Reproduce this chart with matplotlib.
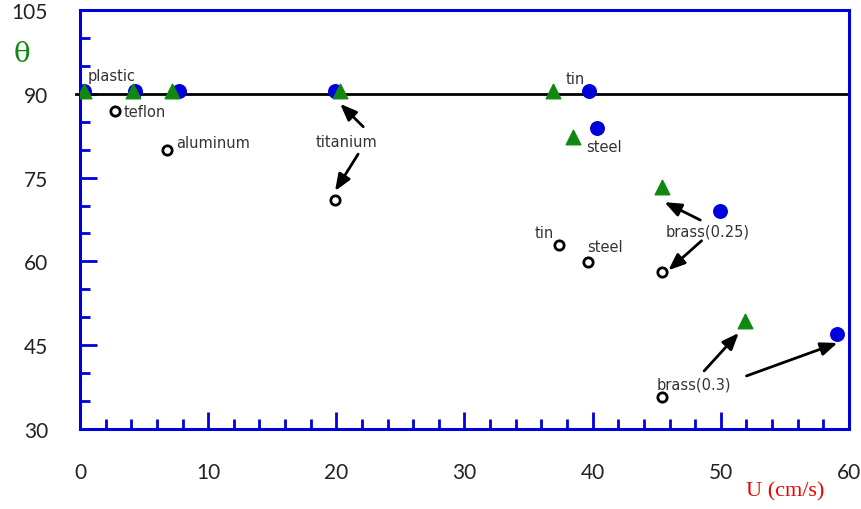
import matplotlib
matplotlib.use("Agg")
import matplotlib.pyplot as plt
from matplotlib.ticker import MultipleLocator

# Closed circles (blue)
blue_u = [0.3, 4.3, 7.7, 19.9, 39.7, 40.3, 49.9, 59.1]
blue_theta = [90.5, 90.5, 90.5, 90.5, 90.5, 83.8, 69.0, 47.0]

# Triangles (green)
green_u = [0.3, 4.1, 7.2, 20.3, 36.9, 38.5, 45.4, 51.9]
green_theta = [90.5, 90.5, 90.5, 90.5, 90.5, 82.3, 73.3, 49.3]

# Open circles (black)
open_u = [2.7, 6.8, 19.9, 37.4, 39.6, 45.4, 45.4]
open_theta = [86.9, 79.9, 71.0, 62.9, 59.9, 58.1, 35.7]

x_ticks = [0, 10, 20, 30, 40, 50, 60]
y_ticks = [30, 45, 60, 75, 90, 105]

fig = plt.figure(figsize=(8.62, 5.10), dpi=100)
ax = fig.add_axes([80 / 862, 1 - 430 / 510, 769 / 862, 419 / 510])
ax.set_xlim(0, 60)
ax.set_ylim(30, 105)

blue = "#0000dd"
for s in ax.spines.values():
    s.set_color(blue)
    s.set_linewidth(2.2)

ax.axhline(90, xmin=-0.005, xmax=1, color="black", lw=2, zorder=2, clip_on=False)

ax.scatter(blue_u, blue_theta, s=95, color=blue, zorder=3)
ax.scatter(green_u, green_theta, s=110, marker="^", color="#118811", zorder=4)
ax.scatter(open_u, open_theta, s=45, facecolor="white", edgecolor="black",
           linewidth=2, zorder=4)

ax.set_xticks(x_ticks)
ax.set_yticks(y_ticks)
ax.xaxis.set_minor_locator(MultipleLocator(2))
ax.yaxis.set_minor_locator(MultipleLocator(5))
ax.tick_params(which="both", direction="in", color=blue, width=2,
               top=False, right=False)
ax.tick_params(which="major", length=12)
ax.tick_params(which="minor", length=7)
ax.tick_params(axis="x", which="major", pad=24, labelsize=15, labelcolor="#222222")
ax.tick_params(axis="y", which="major", pad=23, labelsize=15, labelcolor="#222222")
for lab in ax.get_xticklabels() + ax.get_yticklabels():
    lab.set_fontfamily("Lato")

lab_kw = dict(fontsize=10.5, color="#333333", family="DejaVu Sans")
ax.text(0.6, 92.0, "plastic", ha="left", va="bottom", **lab_kw)
ax.text(3.4, 86.9, "teflon", ha="left", va="center", **lab_kw)
ax.text(7.5, 81.3, "aluminum", ha="left", va="center", **lab_kw)
ax.text(20.8, 81.5, "titanium", ha="center", va="center", **lab_kw)
ax.text(37.9, 92.8, "tin", ha="left", va="center", **lab_kw)
ax.text(39.5, 80.6, "steel", ha="left", va="center", **lab_kw)
ax.text(35.5, 65.1, "tin", ha="left", va="center", **lab_kw)
ax.text(39.6, 62.7, "steel", ha="left", va="center", **lab_kw)
ax.text(45.7, 65.4, "brass(0.25)", ha="left", va="center", **lab_kw)
ax.text(45.0, 38.1, "brass(0.3)", ha="left", va="center", **lab_kw)

arrow = dict(arrowstyle="-|>,head_length=1.0,head_width=0.4", color="black",
             lw=2, shrinkA=0, shrinkB=0)
pairs = [((22.1, 84.1), (20.3, 88.2)),
         ((21.7, 79.2), (19.9, 72.6)),
         ((48.4, 67.4), (45.6, 70.6)),
         ((48.5, 63.7), (45.9, 58.4)),
         ((48.7, 40.4), (51.4, 47.2)),
         ((52.0, 39.5), (59.1, 45.4))]
for start, end in pairs:
    ax.annotate("", xy=end, xytext=start, arrowprops=arrow)

fig.text(22 / 862, 1 - 55 / 510, "θ", color="#118811", fontsize=20,
         family="DejaVu Serif", ha="center", va="center")
fig.text(785 / 862, 1 - 492 / 510, "U (cm/s)", color="#ee0000", fontsize=16,
         family="Liberation Serif", ha="center", va="center")

fig.savefig("out.png", dpi=100)
